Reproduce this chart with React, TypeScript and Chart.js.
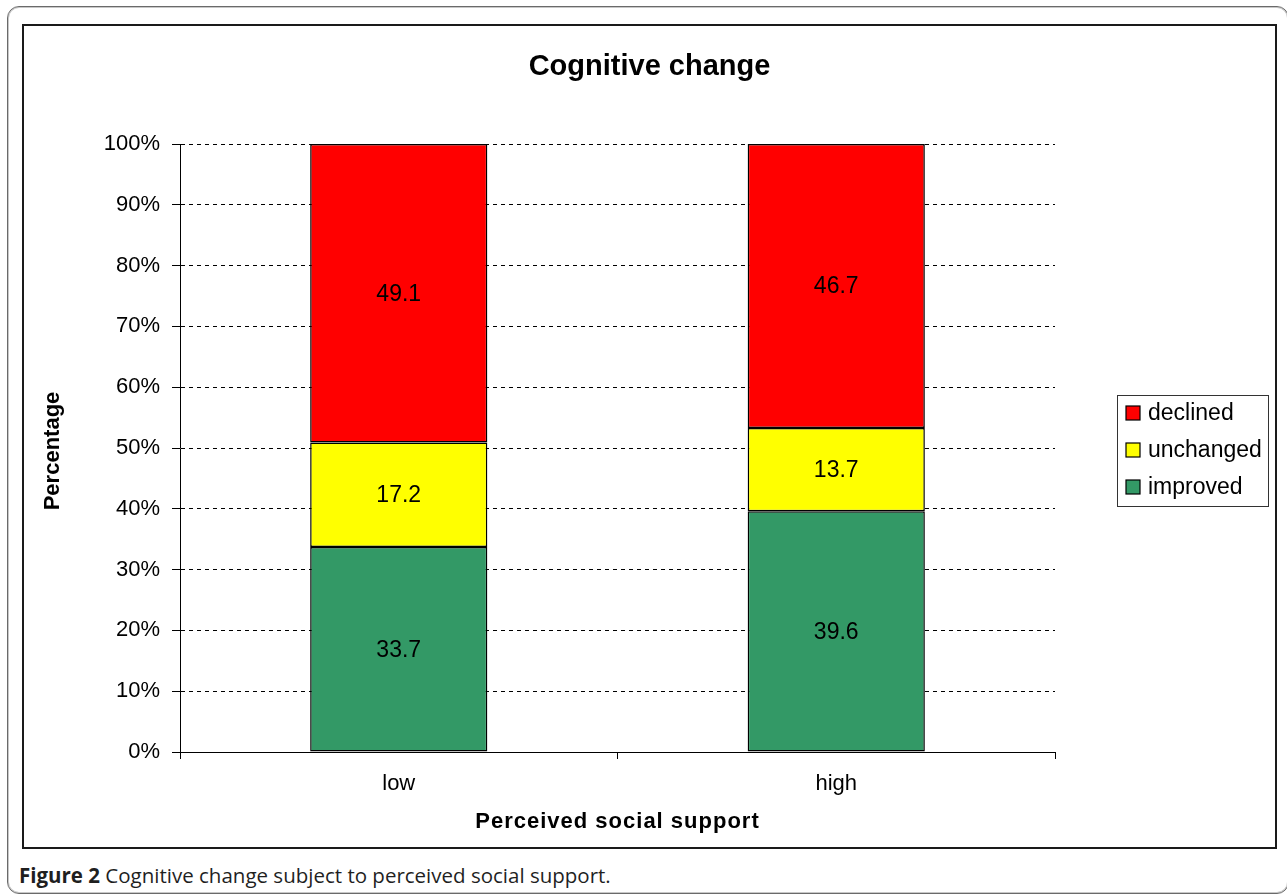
import React, { useEffect, useRef } from "react";
import { Chart, registerables } from "chart.js";

Chart.register(...registerables);

// ---- data ----
const categories = ["low", "high"];
const seriesNames = ["improved", "unchanged", "declined"];
const improved = [33.7, 39.6];
const unchanged = [17.2, 13.7];
const declined = [49.1, 46.7];
const seriesColors = ["#339966", "#FFFF00", "#FF0000"];
const yMin = 0;
const yMax = 100;
const yStep = 10;
const chartTitle = "Cognitive change";
const xTitle = "Perceived social support";
const yTitle = "Percentage";
const captionBold = "Figure 2";
const captionText = " Cognitive change subject to perceived social support.";

const FONT = "'Liberation Sans', Arial, Helvetica, sans-serif";

const CANVAS_W = 1251;
const CANVAS_H = 821;

const valueLabels = {
  id: "valueLabels",
  afterDatasetsDraw(chart: any) {
    const ctx = chart.ctx;
    ctx.save();
    ctx.font = `23px ${FONT}`;
    ctx.fillStyle = "#000";
    ctx.textAlign = "center";
    ctx.textBaseline = "middle";
    chart.data.datasets.forEach((ds: any, di: number) => {
      const meta = chart.getDatasetMeta(di);
      meta.data.forEach((el: any, i: number) => {
        const v = ds.data[i];
        ctx.fillText(Number(v).toFixed(1), el.x, (el.y + el.base) / 2 + 1);
      });
    });
    ctx.restore();
  },
};

const titles = {
  id: "titles",
  afterDraw(chart: any) {
    const ctx = chart.ctx;
    const area = chart.chartArea;
    ctx.save();
    ctx.fillStyle = "#000";
    ctx.textAlign = "center";
    ctx.textBaseline = "middle";
    // chart title, centred over the whole chart box
    ctx.font = `bold 29px ${FONT}`;
    ctx.fillText(chartTitle, chart.width / 2, 41);
    // x axis title
    ctx.font = `bold 22px ${FONT}`;
    try {
      (ctx as any).letterSpacing = "1px";
    } catch (e) {}
    ctx.fillText(xTitle, (area.left + area.right) / 2, area.bottom + 70);
    try {
      (ctx as any).letterSpacing = "0px";
    } catch (e) {}
    // y axis title
    ctx.translate(29, (area.top + area.bottom) / 2 + 3);
    ctx.rotate(-Math.PI / 2);
    ctx.fillText(yTitle, 0, 0);
    ctx.restore();
  },
};

const legendBox = {
  id: "legendBox",
  afterDraw(chart: any) {
    const ctx = chart.ctx;
    const area = chart.chartArea;
    const left = area.right + 62;
    const w = 151;
    const h = 111;
    const cy = (area.top + area.bottom) / 2 + 2;
    const top = cy - h / 2;
    ctx.save();
    ctx.strokeStyle = "#333";
    ctx.lineWidth = 1;
    ctx.strokeRect(Math.round(left) + 0.5, Math.round(top) + 0.5, w, h);
    const items = chart.data.datasets
      .map((d: any) => ({ label: d.label, color: d.backgroundColor }))
      .reverse();
    ctx.font = `23px ${FONT}`;
    ctx.textBaseline = "middle";
    ctx.textAlign = "left";
    items.forEach((it: any, i: number) => {
      const y = cy + (i - 1) * 37;
      ctx.fillStyle = it.color;
      ctx.fillRect(left + 9, y - 7, 14, 14);
      ctx.strokeStyle = "#000";
      ctx.lineWidth = 1.2;
      ctx.strokeRect(left + 9, y - 7, 14, 14);
      ctx.fillStyle = "#000";
      ctx.fillText(it.label, left + 31, y + 1);
    });
    ctx.restore();
  },
};

function ChartCanvas() {
  const ref = useRef<HTMLCanvasElement | null>(null);
  useEffect(() => {
    if (!ref.current) return;
    const values = [improved, unchanged, declined];
    const chart = new Chart(ref.current, {
      type: "bar",
      data: {
        labels: categories,
        datasets: seriesNames.map((name, i) => ({
          label: name,
          data: values[i],
          backgroundColor: seriesColors[i],
          borderColor: "#000",
          borderWidth: 1.5,
          borderSkipped: false,
          categoryPercentage: 1,
          barPercentage: 0.405,
        })),
      },
      options: {
        responsive: false,
        animation: false,
        devicePixelRatio: 1,
        layout: { padding: { left: 0, right: 220, top: 118, bottom: 0 } },
        plugins: {
          legend: { display: false },
          tooltip: { enabled: false },
          title: { display: false },
        },
        scales: {
          x: {
            stacked: true,
            afterFit(scale: any) {
              scale.height = 95;
            },
            grid: {
              display: true,
              drawOnChartArea: false,
              drawTicks: true,
              tickLength: 7,
              color: "#000",
              lineWidth: 1,
            },
            border: { display: true, color: "#000", width: 1 },
            ticks: {
              color: "#000",
              padding: 12,
              font: { family: FONT, size: 22 },
              maxRotation: 0,
            },
          },
          y: {
            stacked: true,
            min: yMin,
            max: yMax,
            afterFit(scale: any) {
              scale.width = 156;
            },
            grid: {
              display: true,
              drawOnChartArea: true,
              drawTicks: true,
              tickLength: 8,
              color: "#000",
              lineWidth: 1,
            },
            border: { display: true, color: "#000", width: 1, dash: [4, 4] },
            ticks: {
              stepSize: yStep,
              color: "#000",
              padding: 12,
              font: { family: FONT, size: 22 },
              callback: (v: any) => `${v}%`,
            },
          },
        },
      },
      plugins: [valueLabels, titles, legendBox],
    } as any);
    return () => chart.destroy();
  }, []);
  return (
    <canvas
      ref={ref}
      width={CANVAS_W}
      height={CANVAS_H}
      style={{ display: "block", width: CANVAS_W, height: CANVAS_H }}
    />
  );
}

export default function App() {
  return (
    <div
      style={{
        position: "absolute",
        left: 0,
        top: 0,
        width: 1287,
        height: 895,
        overflow: "hidden",
        background: "#fff",
      }}
    >
      <div
        style={{
          position: "absolute",
          left: 7,
          top: 6,
          width: 1282,
          height: 888,
          boxSizing: "border-box",
          border: "1.5px solid #6a6a6a",
          borderRadius: 12,
          boxShadow: "inset 0 0 0 1px #c8c8c8",
        }}
      />
      <div
        style={{
          position: "absolute",
          left: 22,
          top: 24,
          width: 1255,
          height: 825,
          boxSizing: "border-box",
          border: "2px solid #1a1a1a",
          background: "#fff",
        }}
      >
        <ChartCanvas />
      </div>
      <div
        style={{
          position: "absolute",
          left: 19,
          top: 862,
          fontFamily: "'Open Sans', sans-serif",
          fontSize: 20.5,
          lineHeight: "26px",
          color: "#1f1f1f",
          whiteSpace: "nowrap",
        }}
      >
        <b>{captionBold}</b>
        {captionText}
      </div>
    </div>
  );
}
